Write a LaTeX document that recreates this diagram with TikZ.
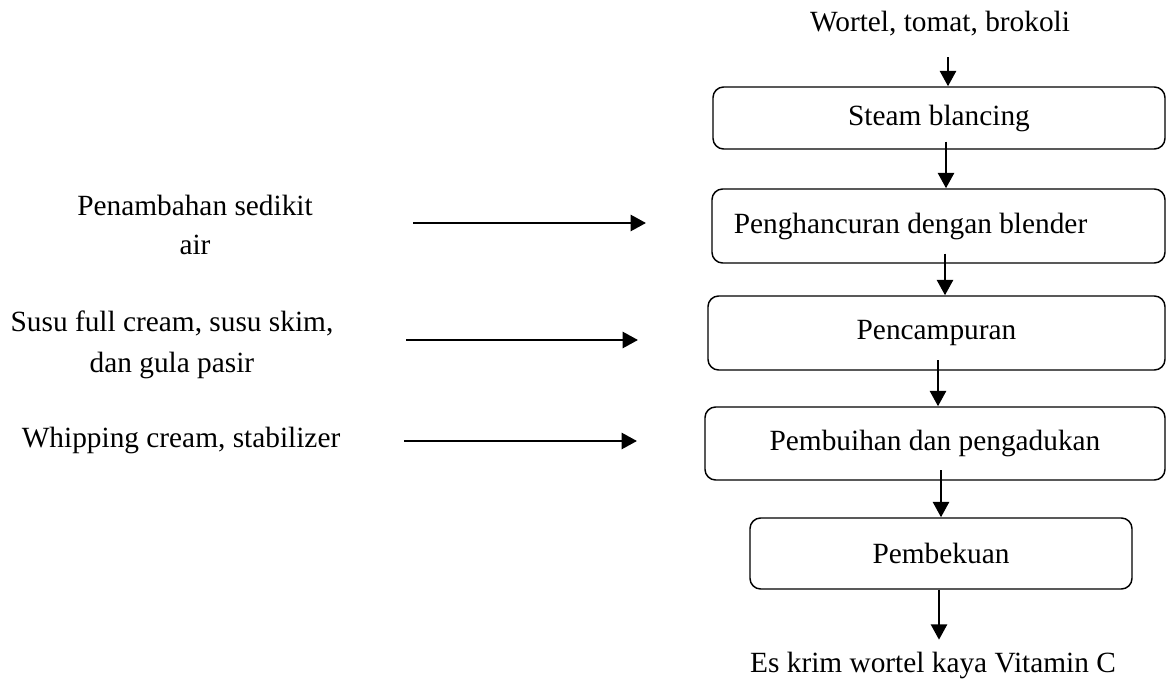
\documentclass[tikz,border=0pt]{standalone}
\usepackage{fontspec}
\setmainfont{Liberation Serif}
\usetikzlibrary{arrows.meta}
\tikzset{
  stepbox/.style={draw, line width=1.1pt, rounded corners=8pt, inner sep=0pt, align=center},
  txt/.style={inner sep=2pt, align=center},
  flow/.style={line width=1.9pt, -{Triangle[length=11.5pt,width=12pt]}},
}

\begin{document}
\begin{tikzpicture}[x=0.75pt, y=-0.75pt, font=\fontsize{22}{29}\selectfont]
\useasboundingbox (0,0) rectangle (1167,680);
% process line
\node[txt] (wortel) at (940,24) {Wortel, tomat, brokoli};
\node[stepbox, minimum width=339pt, minimum height=46.5pt] (steam) at (939,118) {Steam blancing};
\node[stepbox, minimum width=339.75pt, minimum height=55.5pt] (blend) at (938.5,226) {Penghancuran dengan blender\hspace*{42pt}};
\node[stepbox, minimum width=342.75pt, minimum height=55.5pt] (mix) at (936.5,333) {Pencampuran};
\node[stepbox, minimum width=345pt, minimum height=54.75pt] (whip) at (935,443.5) {Pembuihan dan pengadukan};
\node[stepbox, minimum width=286.5pt, minimum height=53.25pt] (freeze) at (941,553.5) {Pembekuan};
\node[txt] (product) at (933,665) {Es krim wortel kaya Vitamin C};
\foreach \a/\b/\xx/\sa/\sb in {wortel/steam/948/13.5pt/0pt, steam/blend/946/-6pt/0pt,
    blend/mix/945/-7.5pt/0pt, mix/whip/938/-8pt/0pt, whip/freeze/941/-8pt/0pt,
    freeze/product/939/0pt/6.75pt}
  \draw[flow, shorten <=\sa, shorten >=\sb] (\a.south -| \xx,0) -- (\b.north -| \xx,0);
% added materials
\node[txt] (water) at (195,225) {Penambahan sedikit\\air};
\node[txt] (milk) at (172,345) {Susu full cream, susu skim,\\[2pt]dan gula pasir};
\node[txt] (cream) at (181,440) {Whipping cream, stabilizer};
\foreach \n/\xa/\xb/\yy in {1/413/646/223, 2/406/638/340, 3/404/637/441}{
  \coordinate (in\n a) at (\xa,\yy);
  \coordinate (in\n b) at (\xb,\yy);
  \draw[flow] (in\n a) -- (in\n b);
}
\end{tikzpicture}
\end{document}
